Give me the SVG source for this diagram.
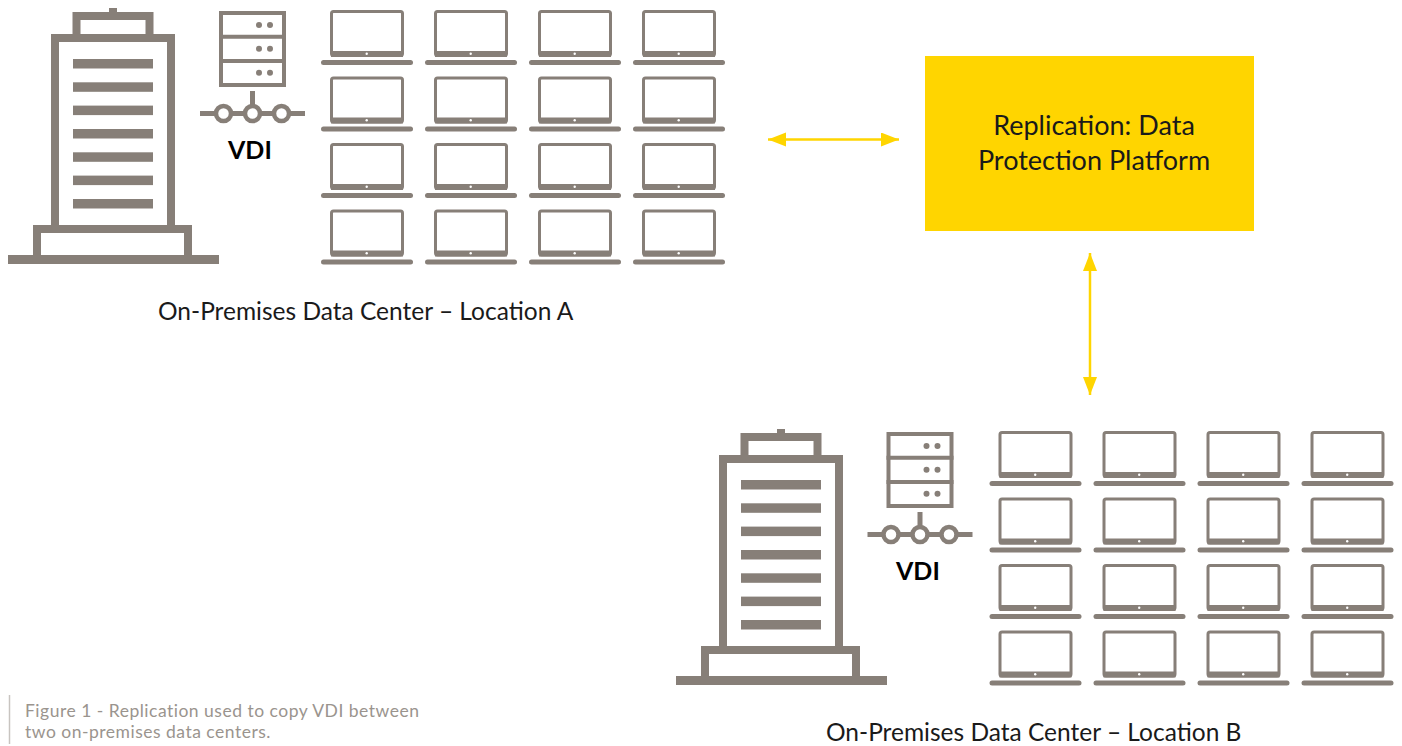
<svg xmlns="http://www.w3.org/2000/svg" xmlns:xlink="http://www.w3.org/1999/xlink" width="1402" height="746" viewBox="0 0 1402 746">
<style>
.f{fill:#877f78}
.o{fill:none;stroke:#877f78}
text{font-family:"Lato","Liberation Sans",sans-serif}
.lbl{font-size:24.5px;fill:#1a1a1a}
.vdi{font-size:25px;font-weight:700;fill:#000}
.box{font-size:27px;fill:#1a1a1a;text-anchor:middle}
.cap{font-size:17.5px;letter-spacing:.5px;fill:#9a948e}
.conn{stroke:#ffd500;stroke-width:2.5;fill:none;marker-start:url(#a);marker-end:url(#a)}
</style>
<defs>
<marker id="a" markerUnits="userSpaceOnUse" markerWidth="20" markerHeight="16" refX="18" refY="7" orient="auto-start-reverse"><path d="M0 0L18 7L0 14Z" fill="#ffd500"/></marker>
<g id="laptop">
<rect x="331.5" y="11.5" width="71" height="44" rx="2" class="o" stroke-width="3"/>
<rect x="331" y="51" width="72" height="6" class="f"/>
<circle cx="366.7" cy="53.8" r="1.2" fill="#fff"/>
<rect x="321" y="60" width="92" height="5" rx="2.5" class="f"/>
</g>
<g id="building">
<rect x="109" y="8" width="8" height="6" class="f"/>
<rect x="76.5" y="16" width="73" height="22" class="o" stroke-width="8"/>
<rect x="55" y="38" width="116" height="191" class="o" stroke-width="8" style="fill:#fff"/>
<rect x="37" y="229" width="151" height="30" class="o" stroke-width="8"/>
<rect x="8" y="255" width="211" height="9" class="f"/>
<rect x="73" y="59" width="80" height="9.5" class="f"/>
<rect x="73" y="82.300" width="80" height="9.5" class="f"/>
<rect x="73" y="105.600" width="80" height="9.5" class="f"/>
<rect x="73" y="129" width="80" height="9.5" class="f"/>
<rect x="73" y="152.300" width="80" height="9.500" class="f"/>
<rect x="73" y="175.600" width="80" height="9.5" class="f"/>
<rect x="73" y="199" width="80" height="9.5" class="f"/>
</g>
<g id="server">
<rect x="221" y="13" width="63" height="72" class="o" stroke-width="4"/>
<path d="M219 36.700H286M219 61H286" class="o" stroke-width="4"/>
<g class="f"><circle cx="259" cy="25" r="3"/><circle cx="270" cy="25" r="3"/><circle cx="259" cy="48.700" r="3"/><circle cx="270" cy="48.700" r="3"/><circle cx="259" cy="72.700" r="3"/><circle cx="270" cy="72.700" r="3"/></g>
<path d="M252.500 91V106M200 113.500H305" class="o" stroke-width="5"/>
<g class="o" stroke-width="4.500" style="fill:#fff"><circle cx="223.500" cy="113.500" r="7.500"/><circle cx="252.500" cy="113.500" r="7.500"/><circle cx="281.500" cy="113.500" r="7.500"/></g>
</g>
<g id="laptops">
<use href="#laptop"/><use href="#laptop" x="104"/><use href="#laptop" x="208"/><use href="#laptop" x="312"/>
<use href="#laptop" y="66.500"/><use href="#laptop" x="104" y="66.500"/><use href="#laptop" x="208" y="66.500"/><use href="#laptop" x="312" y="66.500"/>
<use href="#laptop" y="133"/><use href="#laptop" x="104" y="133"/><use href="#laptop" x="208" y="133"/><use href="#laptop" x="312" y="133"/>
<use href="#laptop" y="199.500"/><use href="#laptop" x="104" y="199.500"/><use href="#laptop" x="208" y="199.500"/><use href="#laptop" x="312" y="199.500"/>
</g>
</defs>
<rect width="1402" height="746" fill="#fff"/>
<g id="connectors">
<path class="conn" d="M768 139.500H899"/>
<path class="conn" d="M1090 253V395"/>
</g>
<g id="location-a">
<use href="#building"/><use href="#server"/><use href="#laptops"/>
<text class="vdi" x="228" y="159">VDI</text>
<text class="lbl" x="158" y="320">On-Premises Data Center – Location A</text>
</g>
<g id="platform">
<rect x="925" y="56" width="329" height="175" fill="#ffd500"/>
<text class="box" x="1094" y="135">Replication: Data</text>
<text class="box" x="1094" y="170">Protection Platform</text>
</g>
<g id="location-b">
<use href="#building" x="668" y="421"/><use href="#server" x="667.500" y="421"/><use href="#laptops" x="668.500" y="421"/>
<text class="vdi" x="896" y="580">VDI</text>
<text class="lbl" x="826" y="741">On-Premises Data Center – Location B</text>
</g>
<g id="caption">
<path d="M9.500 695V744" stroke="#c8c4c0" stroke-width="1.500" fill="none"/>
<text class="cap" x="25" y="717">Figure 1 - Replication used to copy VDI between</text>
<text class="cap" x="25" y="738">two on-premises data centers.</text>
</g>
</svg>
